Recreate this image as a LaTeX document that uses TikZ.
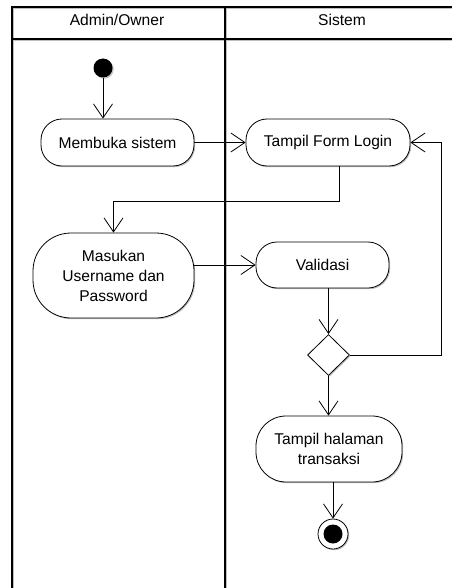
\documentclass[tikz,border=0pt]{standalone}
\usepackage{fontspec}
\setmainfont{Liberation Sans}
\usetikzlibrary{arrows.meta,shapes.geometric,shadows}
\begin{document}
\begin{tikzpicture}[x=1pt,y=-1pt,
  every node/.style={font=\fontsize{15.6}{20}\selectfont},
  shd/.style={drop shadow={shadow xshift=1.2pt,shadow yshift=-1.2pt,fill=black,opacity=0.25}},
  act/.style={draw, line width=0.8pt, fill=white, align=center, inner sep=0pt, shd},
  arr/.style={line width=0.8pt, -{Straight Barb[length=14pt,width=19pt,line width=0.8pt]}},
  lane/.style={line width=1.2pt, draw=black},
  laneshd/.style={line width=1.2pt, draw=black!25}]
\useasboundingbox (0,0) rectangle (451,588);
% swimlane frame
\draw[laneshd] (13.5,600) -- (13.5,8.5) -- (460,8.5);
\draw[laneshd] (13.5,40.5) -- (460,40.5);
\draw[laneshd] (226.5,8.5) -- (226.5,600);
\draw[lane] (12,600) -- (12,7) -- (460,7);
\draw[lane] (12,39) -- (460,39);
\draw[lane] (225,7) -- (225,600);
\node (h1) at (117,20) {Admin/Owner};
\node (h2) at (342,20) {Sistem};
% nodes
\node[circle, fill=black, minimum size=19pt, inner sep=0pt, shd] (start) at (103,68) {};
\node[act, minimum width=153pt, minimum height=47pt, rounded corners=21pt] (membuka) at (117.5,142.5) {Membuka sistem};
\node[act, minimum width=164pt, minimum height=47pt, rounded corners=21pt] (form) at (328,142.5) {Tampil Form Login};
\node[act, minimum width=161pt, minimum height=85pt, rounded corners=38pt] (masukan) at (113.5,275.5) {Masukan\\Username dan\\Password};
\node[act, minimum width=133pt, minimum height=46pt, rounded corners=21pt] (validasi) at (322.5,265) {Validasi};
\node[diamond, draw, line width=0.8pt, fill=white, minimum width=42pt, minimum height=41pt, inner sep=0pt, shd] (dec) at (328.5,355) {};
\node[act, minimum width=146pt, minimum height=66pt, rounded corners=30pt] (halaman) at (329,449) {Tampil halaman\\transaksi};
\node[circle, draw, line width=0.8pt, fill=white, minimum size=30pt, inner sep=0pt, shd] (end) at (333,534) {};
\node[circle, fill=black, minimum size=19pt, inner sep=0pt] (endin) at (end) {};
\coordinate (loop) at (441,355);
\coordinate (bend) at (339,201);
% connectors
\draw[arr] (start) -- (start |- membuka.north);
\draw[arr] (membuka.east) -- (form.west);
\draw[arr] (bend |- form.south) -- (bend) -| (masukan.north);
\draw[arr] (masukan.east |- validasi.west) -- (validasi.west);
\draw[arr] (validasi.south -| dec.north) -- (dec.north);
\draw[arr] (dec.east) -- (loop) |- (form.east);
\draw[arr] (dec.south) -- (dec.south |- halaman.north);
\draw[arr] (end |- halaman.south) -- (end.north);
\end{tikzpicture}
\end{document}
